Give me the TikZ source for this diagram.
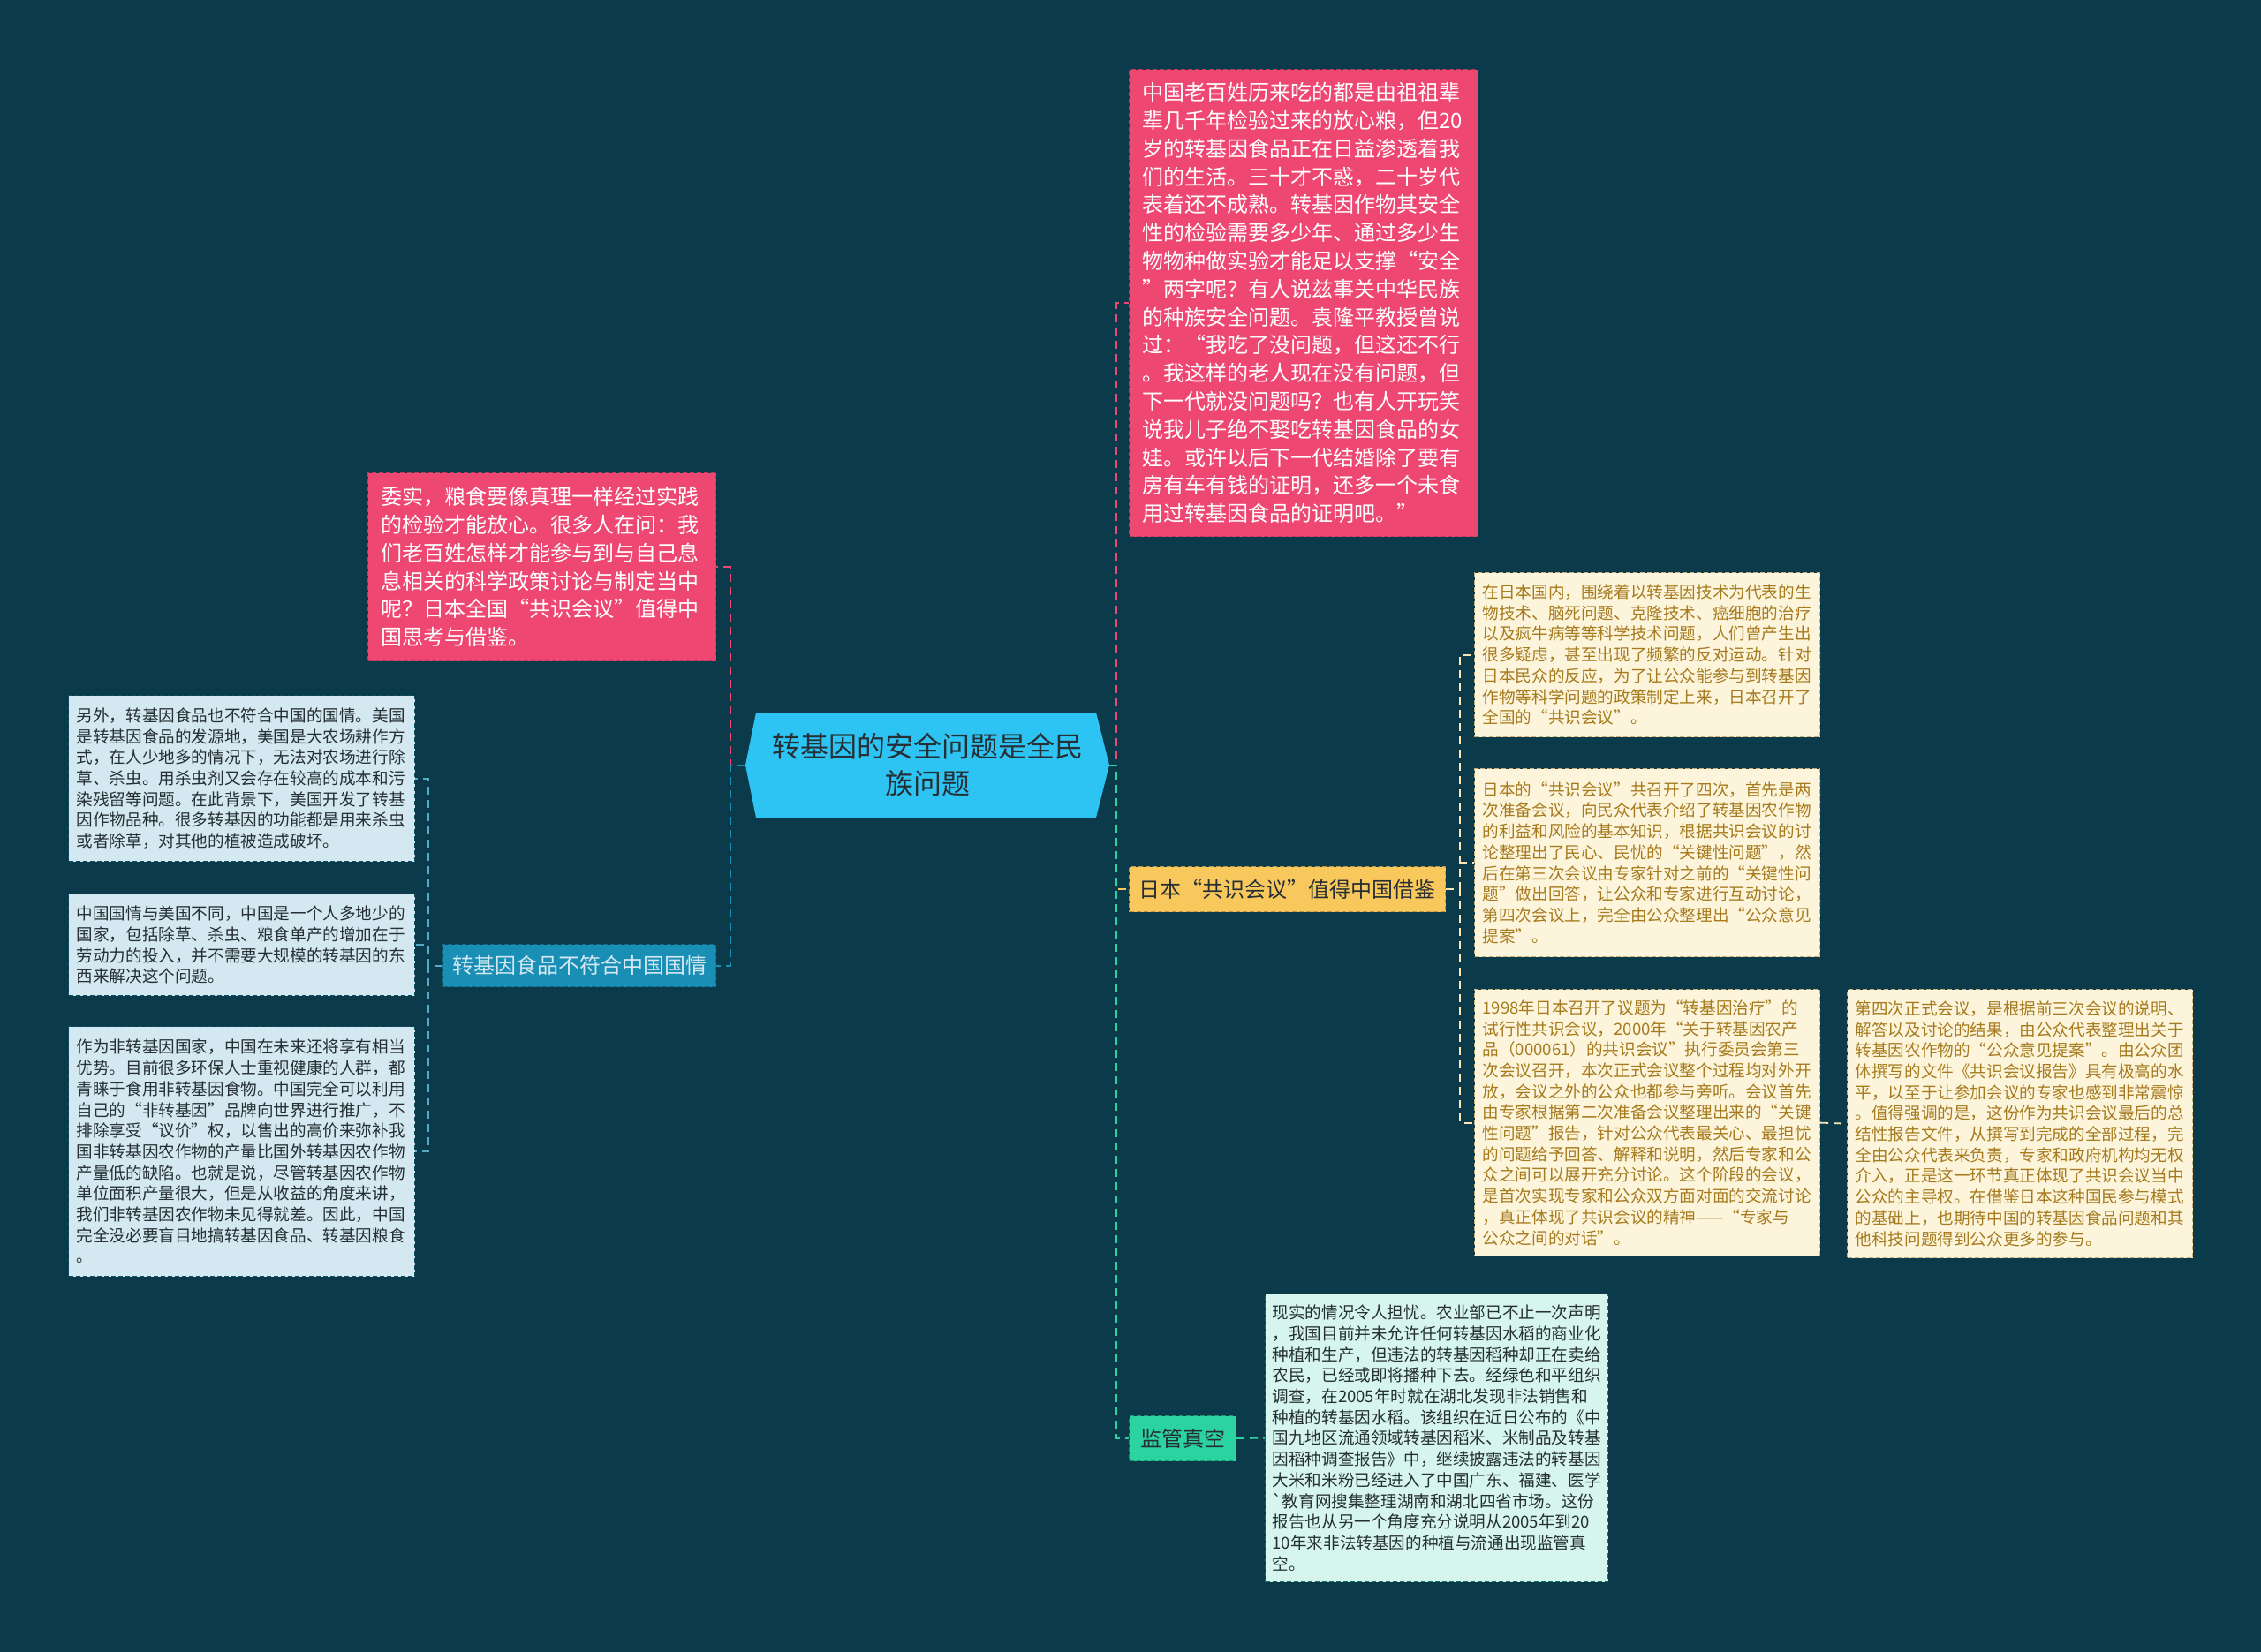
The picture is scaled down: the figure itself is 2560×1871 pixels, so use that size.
\documentclass[tikz,border=0pt]{standalone}
\usepackage{fontspec}
\setmainfont{Noto Sans CJK SC}
\usepackage{tikz}
\usetikzlibrary{positioning}
\definecolor{deep}{HTML}{0B3A4B}
\definecolor{sky}{HTML}{2DC3F3}
\definecolor{rose}{HTML}{EE4872}
\definecolor{sun}{HTML}{F9C85C}
\definecolor{mint}{HTML}{2BD3A1}
\definecolor{sea}{HTML}{1A8FB6}
\definecolor{ice}{HTML}{D3E8F0}
\definecolor{cream}{HTML}{FDF5DB}
\definecolor{foam}{HTML}{D5F5ED}
\definecolor{ink}{HTML}{262F33}
\definecolor{bronze}{HTML}{A67A1E}

\begin{document}
\begin{tikzpicture}[x=1pt,y=-1pt,
  card/.style={anchor=north west,align=left,inner ysep=0pt,draw,dash pattern=on 5pt off 3pt,line width=1.2pt},
  big/.style={font=\fontsize{24}{31.8}\selectfont,inner xsep=15pt},
  small/.style={font=\fontsize{18.6}{23.7}\selectfont,inner xsep=9pt},
  topic/.style={anchor=north west,font=\fontsize{24}{30}\selectfont,inner sep=0pt,draw,dash pattern=on 5pt off 3pt,line width=1.2pt},
  link/.style={line width=1.8pt,dash pattern=on 9pt off 6pt},
  hexa/.style={path picture={\fill[sky] (path picture bounding box.west)
      -- ([xshift=12pt]path picture bounding box.north west) -- ([xshift=-15pt]path picture bounding box.north east)
      -- (path picture bounding box.east) -- ([xshift=-15pt]path picture bounding box.south east)
      -- ([xshift=12pt]path picture bounding box.south west) -- cycle;}}]
  \useasboundingbox (0,0) rectangle (2560,1871);
  \fill[deep] (0,0) rectangle (2560,1871);

  % root
  \node[hexa,align=center,inner sep=0pt,minimum width=412pt,minimum height=119pt,
    font=\fontsize{32}{42}\selectfont,text=ink] (root) at (1050,866.5) {转基因的安全问题是全民\\族问题};

  % right side
  \node[card,big,fill=rose,draw=rose!80!black,text=white,text width=365pt,minimum height=529pt] (gen) at (1278,78) {中国老百姓历来吃的都是由祖祖辈\\辈几千年检验过来的放心粮，但20\\岁的转基因食品正在日益渗透着我\\们的生活。三十才不惑，二十岁代\\表着还不成熟。转基因作物其安全\\性的检验需要多少年、通过多少生\\物物种做实验才能足以支撑“安全\\”两字呢？有人说兹事关中华民族\\的种族安全问题。袁隆平教授曾说\\过：“我吃了没问题，但这还不行\\。我这样的老人现在没有问题，但\\下一代就没问题吗？也有人开玩笑\\说我儿子绝不娶吃转基因食品的女\\娃。或许以后下一代结婚除了要有\\房有车有钱的证明，还多一个未食\\用过转基因食品的证明吧。”};
  \node[topic,fill=sun,draw=sun!75!black,text=ink,minimum width=358pt,minimum height=51pt] (japan) at (1278,981) {日本“共识会议”值得中国借鉴};
  \node[topic,fill=mint,draw=mint!70!black,text=ink,minimum width=121pt,minimum height=51pt] (watch) at (1278,1603) {监管真空};

  \node[card,small,fill=cream,draw=bronze!60,text=bronze,text width=373pt,minimum height=186pt] (c1) at (1669,648) {在日本国内，围绕着以转基因技术为代表的生\\物技术、脑死问题、克隆技术、癌细胞的治疗\\以及疯牛病等等科学技术问题，人们曾产生出\\很多疑虑，甚至出现了频繁的反对运动。针对\\日本民众的反应，为了让公众能参与到转基因\\作物等科学问题的政策制定上来，日本召开了\\全国的“共识会议”。};
  \node[card,small,fill=cream,draw=bronze!60,text=bronze,text width=373pt,minimum height=213pt] (c2) at (1669,870) {日本的“共识会议”共召开了四次，首先是两\\次准备会议，向民众代表介绍了转基因农作物\\的利益和风险的基本知识，根据共识会议的讨\\论整理出了民心、民忧的“关键性问题”，然\\后在第三次会议由专家针对之前的“关键性问\\题”做出回答，让公众和专家进行互动讨论，\\第四次会议上，完全由公众整理出“公众意见\\提案”。};
  \node[card,small,fill=cream,draw=bronze!60,text=bronze,text width=373pt,minimum height=302pt] (c3) at (1669,1120) {1998年日本召开了议题为“转基因治疗”的\\试行性共识会议，2000年“关于转基因农产\\品（000061）的共识会议”执行委员会第三\\次会议召开，本次正式会议整个过程均对外开\\放，会议之外的公众也都参与旁听。会议首先\\由专家根据第二次准备会议整理出来的“关键\\性问题”报告，针对公众代表最关心、最担忧\\的问题给予回答、解释和说明，然后专家和公\\众之间可以展开充分讨论。这个阶段的会议，\\是首次实现专家和公众双方面对面的交流讨论\\，真正体现了共识会议的精神——“专家与\\公众之间的对话”。};
  \node[card,small,fill=cream,draw=bronze!60,text=bronze,text width=373pt,minimum height=304pt] (c4) at (2091,1120) {第四次正式会议，是根据前三次会议的说明、\\解答以及讨论的结果，由公众代表整理出关于\\转基因农作物的“公众意见提案”。由公众团\\体撰写的文件《共识会议报告》具有极高的水\\平，以至于让参加会议的专家也感到非常震惊\\。值得强调的是，这份作为共识会议最后的总\\结性报告文件，从撰写到完成的全部过程，完\\全由公众代表来负责，专家和政府机构均无权\\介入，正是这一环节真正体现了共识会议当中\\公众的主导权。在借鉴日本这种国民参与模式\\的基础上，也期待中国的转基因食品问题和其\\他科技问题得到公众更多的参与。};
  \node[card,small,inner xsep=8pt,fill=foam,draw=mint!55!black,text=ink,text width=372pt,minimum height=326pt] (report) at (1432,1465) {现实的情况令人担忧。农业部已不止一次声明\\，我国目前并未允许任何转基因水稻的商业化\\种植和生产，但违法的转基因稻种却正在卖给\\农民，已经或即将播种下去。经绿色和平组织\\调查，在2005年时就在湖北发现非法销售和\\种植的转基因水稻。该组织在近日公布的《中\\国九地区流通领域转基因稻米、米制品及转基\\因稻种调查报告》中，继续披露违法的转基因\\大米和米粉已经进入了中国广东、福建、医学\\\textasciigrave 教育网搜集整理湖南和湖北四省市场。这份\\报告也从另一个角度充分说明从2005年到20\\10年来非法转基因的种植与流通出现监管真\\空。};

  % left side
  \node[card,big,fill=rose,draw=rose!80!black,text=white,text width=364pt,minimum height=213pt] (advice) at (416,535) {委实，粮食要像真理一样经过实践\\的检验才能放心。很多人在问：我\\们老百姓怎样才能参与到与自己息\\息相关的科学政策讨论与制定当中\\呢？日本全国“共识会议”值得中\\国思考与借鉴。};
  \node[topic,fill=sea,draw=sea!75!black,text=ice,minimum width=309pt,minimum height=48pt] (local) at (501,1069) {转基因食品不符合中国国情};

  \node[card,small,fill=ice,draw=sea!55!black,text=ink,text width=374pt,minimum height=188pt] (l1) at (77,787) {另外，转基因食品也不符合中国的国情。美国\\是转基因食品的发源地，美国是大农场耕作方\\式，在人少地多的情况下，无法对农场进行除\\草、杀虫。用杀虫剂又会存在较高的成本和污\\染残留等问题。在此背景下，美国开发了转基\\因作物品种。很多转基因的功能都是用来杀虫\\或者除草，对其他的植被造成破坏。};
  \node[card,small,fill=ice,draw=sea!55!black,text=ink,text width=374pt,minimum height=115pt] (l2) at (77,1012) {中国国情与美国不同，中国是一个人多地少的\\国家，包括除草、杀虫、粮食单产的增加在于\\劳动力的投入，并不需要大规模的转基因的东\\西来解决这个问题。};
  \node[card,small,fill=ice,draw=sea!55!black,text=ink,text width=374pt,minimum height=283pt] (l3) at (77,1162) {作为非转基因国家，中国在未来还将享有相当\\优势。目前很多环保人士重视健康的人群，都\\青睐于食用非转基因食物。中国完全可以利用\\自己的“非转基因”品牌向世界进行推广，不\\排除享受“议价”权，以售出的高价来弥补我\\国非转基因农作物的产量比国外转基因农作物\\产量低的缺陷。也就是说，尽管转基因农作物\\单位面积产量很大，但是从收益的角度来讲，\\我们非转基因农作物未见得就差。因此，中国\\完全没必要盲目地搞转基因食品、转基因粮食\\。};

  % connectors
  \draw[link,rose] (root.east) -- ++(8,0) |- (gen.west);
  \draw[link,sun] (root.east) -- ++(8,0) |- (japan.west);
  \draw[link,mint] (root.east) -- ++(8,0) |- (watch.west);
  \draw[link,rose] (root.west) -- ++(-17,0) |- (advice.east);
  \draw[link,sea] (root.west) -- ++(-17,0) |- (local.east);
  \foreach \c in {c1,c2,c3}
    \draw[link,sun!45!white] (japan.east) -- ++(16,0) |- (\c.west);
  \draw[link,sun!45!white] (c3.east) -- (c4.west);
  \draw[link,mint] (watch.east) -- (report.west);
  \foreach \c in {l1,l2,l3}
    \draw[link,sea!75!white] (local.west) -- ++(-16,0) |- (\c.east);
\end{tikzpicture}
\end{document}
